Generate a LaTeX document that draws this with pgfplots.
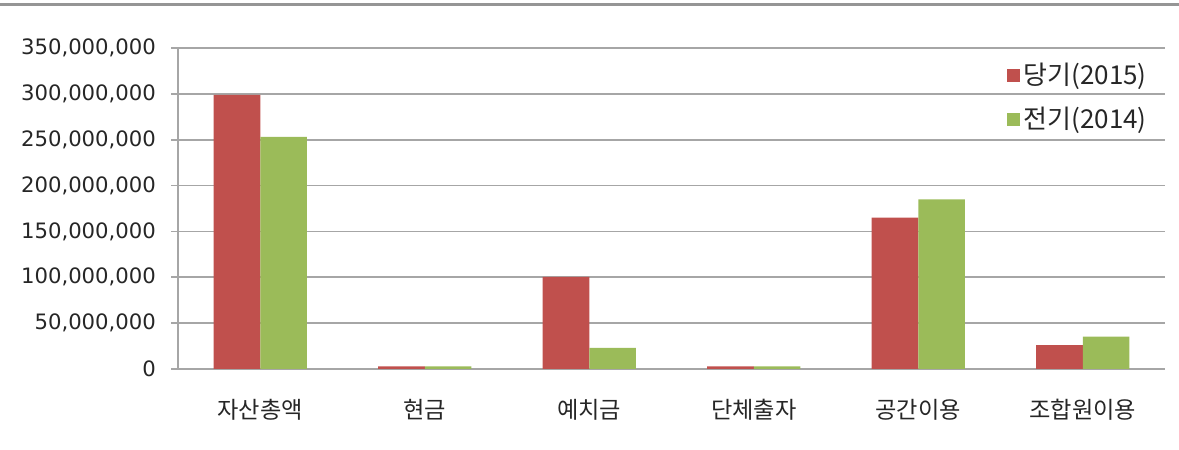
\documentclass[border=0pt]{standalone}
\usepackage{pgfplots}
\pgfplotsset{compat=1.18}
\usepackage{fontspec}
\setmainfont{DejaVu Sans}
\newfontfamily\cjk{Noto Sans CJK KR}
\definecolor{cred}{HTML}{C0504D}
\definecolor{cgreen}{HTML}{9BBB59}
\definecolor{cgrid}{HTML}{A6A6A6}
\definecolor{ctext}{HTML}{262626}
\begin{document}
\begin{tikzpicture}[x=1pt,y=1pt]
\begin{axis}[
  at={(89pt,40.5pt)}, anchor=south west,
  scale only axis, width=493.5pt, height=160.5pt,
  xmin=-0.5, xmax=5.5, ymin=0, ymax=350000000,
  ybar=0pt, bar width=0.283,
  axis x line*=bottom, axis y line*=left,
  axis line style={cgrid, line width=0.8pt},
  xtick={0,1,2,3,4,5},
  xticklabels={자산총액,현금,예치금,단체출자,공간이용,조합원이용},
  xticklabel style={font=\cjk\fontsize{11.6}{13}\selectfont, text=ctext, yshift=-8pt},
  x tick style={draw=none},
  extra x ticks={-0.5,0.5,1.5,2.5,3.5,4.5,5.5},
  extra x tick labels={},
  extra x tick style={tick style={draw=cgrid, line width=0.8pt}, major tick length=4.5pt, tick align=outside, grid=none},
  ytick={0,50000000,100000000,150000000,200000000,250000000,300000000,350000000},
  scaled y ticks=false,
  yticklabel style={/pgf/number format/.cd, fixed, precision=0, 1000 sep={,}, assume math mode=true, /tikz/.cd, font=\fontsize{10.6}{12}\selectfont, text=ctext, xshift=-4pt},
  y tick style={draw=cgrid, line width=0.8pt},
  tick align=center, major tick length=7pt,
  ymajorgrids, grid style={cgrid, line width=0.9pt},
  legend style={at={(0.833,0.98)}, anchor=north west, draw=none, fill=none,
    font=\cjk\fontsize{13}{14}\selectfont, text=ctext, row sep=6pt,
    /tikz/every even column/.append style={column sep=2pt}},
  legend cell align=left,
  legend image code/.code={\fill[#1] (0pt,-3.25pt) rectangle (6.5pt,3.25pt);},
  enlarge x limits=false,
]
\addplot[fill=cred, draw=none] coordinates {(0,299000000) (1,2800000) (2,100500000) (3,2800000) (4,165000000) (5,26000000)};
\addplot[fill=cgreen, draw=none] coordinates {(0,253000000) (1,2800000) (2,23000000) (3,2800000) (4,185000000) (5,35200000)};
\legend{당기(2015),전기(2014)}
\end{axis}
\draw[cgrid!90!black, line width=1.5pt] (0,222.5) -- (589.5,222.5);
\pgfresetboundingbox
\path (0,0) rectangle (589.5,225);
\end{tikzpicture}
\end{document}
